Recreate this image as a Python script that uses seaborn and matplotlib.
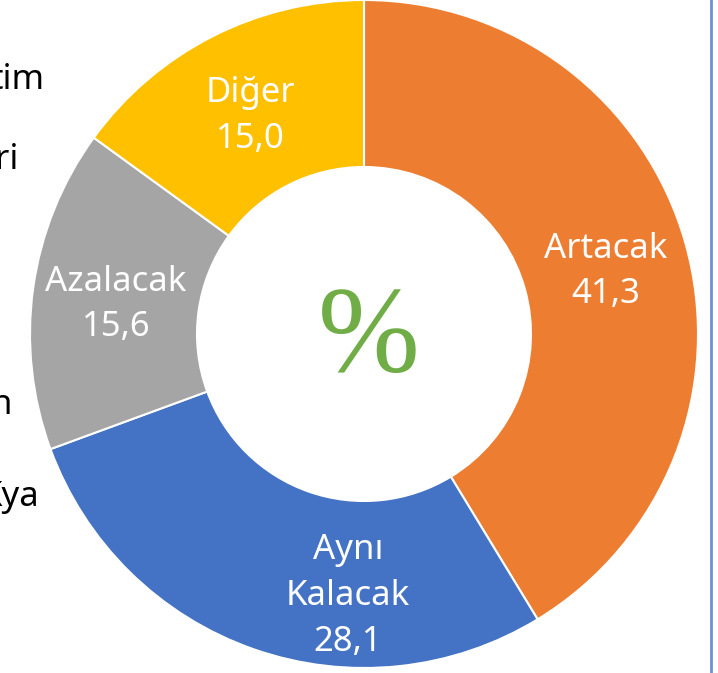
import matplotlib
matplotlib.use('Agg')
import numpy as np
import matplotlib.pyplot as plt
import seaborn as sns

# chart values
categories = ['Artacak', 'Aynı\nKalacak', 'Azalacak', 'Diğer']
values = [41.3, 28.1, 15.6, 15.0]
value_labels = ['41,3', '28,1', '15,6', '15,0']
colors = ['#ED7D31', '#4472C4', '#A5A5A5', '#FFC000']

# cut-off text from the neighbouring panel on the left
side_texts = ['tim', 'ri', 'n', 'Kya']

sns.set_theme(style='white')
plt.rcParams['font.family'] = ['Noto Sans', 'DejaVu Sans']

W, H = 718, 673
fig = plt.figure(figsize=(W / 100, H / 100), dpi=100)
ax = fig.add_axes([0, 0, 1, 1])

cx, cy, R = 364, H - 334, 334
wedges, _ = ax.pie(values, colors=colors, startangle=90, counterclock=False,
                   center=(cx, cy), radius=R,
                   wedgeprops=dict(width=R * 0.5, edgecolor='white', linewidth=1.5))
ax.set_xlim(0, W)
ax.set_ylim(0, H)
ax.set_aspect('equal')
ax.axis('off')

# data labels at the middle of each ring segment
for i, (w, cat, lab) in enumerate(zip(wedges, categories, value_labels)):
    mid = np.deg2rad((w.theta1 + w.theta2) / 2)
    x = cx + 0.75 * R * np.cos(mid)
    y = cy + 0.75 * R * np.sin(mid) - 5
    if i == 1:  # Excel nudges this one towards the bottom
        x, y = 348, H - 596
    ax.text(x, y, f'{cat}\n{lab}', ha='center', va='center', color='white',
            fontsize=25, linespacing=1.45)

ax.text(369, H - 341, '%', ha='center', va='center', color='#70AD47',
        fontsize=88, family=['Liberation Serif', 'DejaVu Serif'])

# fragments of the left-hand panel
for txt, (x, y) in zip(side_texts, [(45, 80), (18, 160), (13, 405), (39, 497)]):
    ax.text(x, H - y, txt, ha='right', va='center', color='black', fontsize=25)

ax.plot([711, 711], [0, H], color='#6F8FD0', linewidth=2)

fig.savefig('out.png', dpi=100)
